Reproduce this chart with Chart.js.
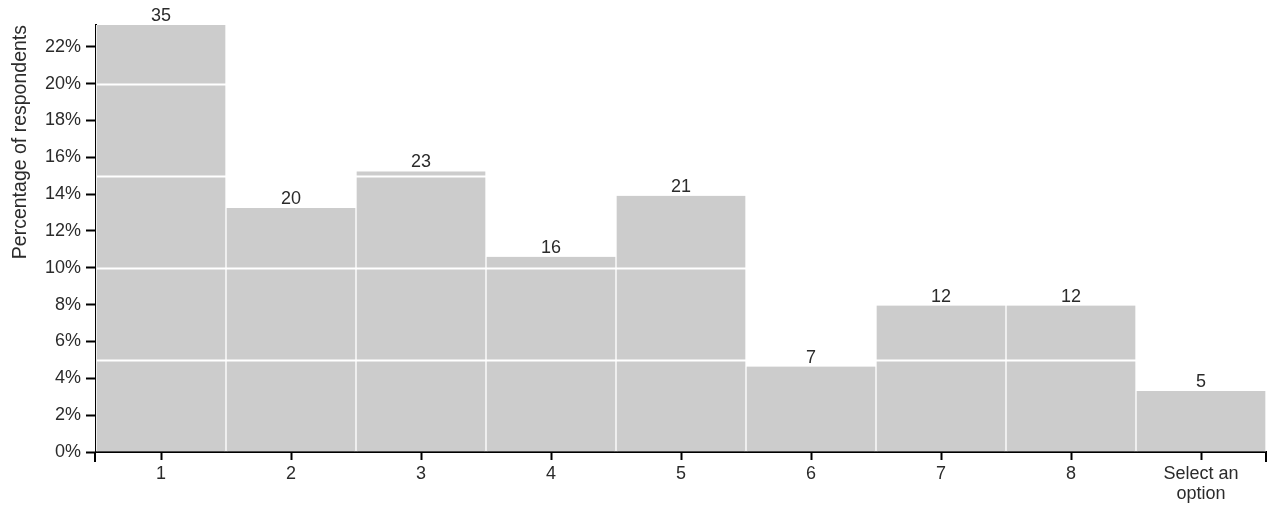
<!DOCTYPE html>
<html>
<head>
<meta charset="utf-8">
<script src="https://cdn.jsdelivr.net/npm/chart.js@4/dist/chart.umd.min.js"></script>
<style>
    html, body { margin: 0; padding: 0; background: #fff; }
    #wrap { width: 1269px; height: 510px; position: relative; }
</style>
</head>
<body>
<div id="wrap"><canvas id="chart"></canvas></div>
<script>
const categories = ['1', '2', '3', '4', '5', '6', '7', '8', ['Select an', 'option']];
const counts = [35, 20, 23, 16, 21, 7, 12, 12, 5];
const percentages = [23.18, 13.25, 15.23, 10.6, 13.91, 4.64, 7.95, 7.95, 3.31];
const yTicks = [0, 2, 4, 6, 8, 10, 12, 14, 16, 18, 20, 22];
const whiteLines = [5, 10, 15, 20];

const FONT = '"Liberation Sans", Arial, sans-serif';
const TEXT = '#2b2b2b';

// white guide lines over the bars, counts above them, outer axis ticks
const overlay = {
    id: 'overlay',
    afterDatasetsDraw(chart) {
        const ctx = chart.ctx;
        const area = chart.chartArea;
        const y = chart.scales.y;
        ctx.save();
        ctx.strokeStyle = '#fff';
        ctx.lineWidth = 2;
        whiteLines.forEach(v => {
            const py = Math.round(y.getPixelForValue(v)) + 0.5;
            ctx.beginPath();
            ctx.moveTo(area.left + 1, py);
            ctx.lineTo(area.right, py);
            ctx.stroke();
        });

        ctx.fillStyle = TEXT;
        ctx.font = '18px ' + FONT;
        ctx.textAlign = 'center';
        ctx.textBaseline = 'alphabetic';
        chart.getDatasetMeta(0).data.forEach((bar, i) => {
            ctx.fillText(String(counts[i]), bar.x, bar.y - 4);
        });
        ctx.restore();
    },
    afterDraw(chart) {
        const ctx = chart.ctx;
        const area = chart.chartArea;
        ctx.save();
        ctx.strokeStyle = '#000';
        ctx.lineWidth = 2;
        [area.left - 1, area.right].forEach(x => {
            ctx.beginPath();
            ctx.moveTo(x, area.bottom);
            ctx.lineTo(x, area.bottom + 10);
            ctx.stroke();
        });
        ctx.restore();
    }
};

new Chart(document.getElementById('chart'), {
    type: 'bar',
    data: {
        labels: categories,
        datasets: [{
            data: percentages,
            backgroundColor: '#cccccc',
            borderColor: '#ffffff',
            borderWidth: { left: 1, right: 1, top: 0, bottom: 0 },
            borderSkipped: false,
            barPercentage: 1,
            categoryPercentage: 1
        }]
    },
    options: {
        responsive: true,
        maintainAspectRatio: false,
        animation: false,
        layout: { padding: { left: 0, right: 3, top: 25, bottom: 0 } },
        plugins: {
            legend: { display: false },
            tooltip: { enabled: false }
        },
        scales: {
            x: {
                afterFit: s => { s.height = 58; },
                grid: {
                    offset: false,
                    drawOnChartArea: false,
                    tickLength: 8,
                    tickColor: '#000',
                    tickWidth: 2
                },
                border: { color: '#000', width: 2 },
                ticks: {
                    color: TEXT,
                    font: { family: FONT, size: 18, lineHeight: 1.1 },
                    padding: 4,
                    maxRotation: 0,
                    autoSkip: false
                }
            },
            y: {
                min: 0,
                max: Math.max(...percentages),
                afterFit: s => { s.width = 96; },
                afterBuildTicks: s => { s.ticks = yTicks.map(v => ({ value: v })); },
                grid: {
                    drawOnChartArea: false,
                    tickLength: 10,
                    tickColor: '#000',
                    tickWidth: 2
                },
                border: { color: '#000', width: 2 },
                ticks: {
                    color: TEXT,
                    font: { family: FONT, size: 18 },
                    padding: 5,
                    callback: v => v + '%'
                },
                title: {
                    display: true,
                    text: 'Percentage of respondents',
                    align: 'end',
                    color: TEXT,
                    font: { family: FONT, size: 19.5 },
                    padding: { top: 9, bottom: 0 }
                }
            }
        }
    },
    plugins: [overlay]
});
</script>
</body>
</html>
